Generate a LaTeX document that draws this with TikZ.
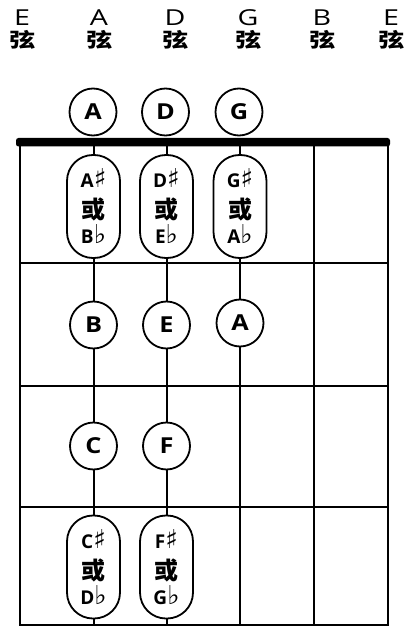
\documentclass[tikz,border=0pt]{standalone}
\usepackage{fontspec}
\setmainfont{Open Sans}
\newfontfamily\cjk{Noto Sans CJK SC}
\newfontfamily\symf{DejaVu Sans}
\newcommand{\shp}{{\symf\mdseries\fontsize{26}{26}\selectfont ♯}}
\newcommand{\flt}{{\symf\mdseries\fontsize{26}{26}\selectfont ♭}}
\begin{document}
\begin{tikzpicture}[x=1pt,y=-1pt,
  ln/.style={line width=2pt},
  note/.style={circle,draw,line width=1.8pt,fill=white,minimum size=47pt,inner sep=0pt,
    font=\bfseries\fontsize{22}{22}\selectfont},
  pill/.style={draw,line width=1.8pt,fill=white,rounded corners=26pt,minimum width=53pt,
    minimum height=103pt,inner sep=0pt},
  ptxt/.style={inner sep=0pt,anchor=base,font=\bfseries\fontsize{19}{19}\selectfont},
  phuo/.style={inner sep=0pt,anchor=base,font=\cjk\bfseries\fontsize{24}{24}\selectfont},
  headl/.style={inner sep=0pt,font=\fontsize{22}{22}\selectfont},
  headc/.style={inner sep=0pt,font=\cjk\bfseries\fontsize{20}{20}\selectfont}]
\useasboundingbox (0,0) rectangle (408,628);
% header
\foreach \n/\x/\l in {1/22/E,2/99/A,3/175/D,4/248/G,5/322/B,6/391/E}{
  \node[headl] (h\n) at (\x,17.5) {\scalebox{1.3}[1]{\l}};
  \node[headc] (x\n) at (\x+0.5,39.5) {\scalebox{1.3}[1]{弦}};
}
% coordinates
\coordinate (tl) at (19.5,146); \coordinate (bl) at (19.5,625);
\coordinate (tr) at (388,146);  \coordinate (br) at (388,625);
\coordinate (sAt) at (93.5,146);  \coordinate (sAb) at (93.5,625);
\coordinate (sDt) at (166.5,146); \coordinate (sDb) at (166.5,625);
\coordinate (sGt) at (240,146);   \coordinate (sGb) at (240,625);
\coordinate (sBt) at (314,146);   \coordinate (sBb) at (314,625);
\coordinate (f1L) at (19.5,263); \coordinate (f1R) at (388,263);
\coordinate (f2L) at (19.5,386); \coordinate (f2R) at (388,386);
\coordinate (f3L) at (19.5,507); \coordinate (f3R) at (388,507);
% grid
\draw[ln] (tl) -- (bl) -- (br) -- (tr);
\draw[ln] (sAt) -- (sAb);
\draw[ln] (sDt) -- (sDb);
\draw[ln] (sGt) -- (sGb);
\draw[ln] (sBt) -- (sBb);
\draw[ln] (f1L) -- (f1R);
\draw[ln] (f2L) -- (f2R);
\draw[ln] (f3L) -- (f3R);
% nut
\fill[rounded corners=2.5pt] (16,138) rectangle (390,146.5);
% open strings
\node[note] (oA) at (93,112) {\scalebox{1.15}[1]{A}};
\node[note] (oD) at (165.5,112) {\scalebox{1.15}[1]{D}};
\node[note] (oG) at (239,112) {\scalebox{1.15}[1]{G}};
% pills with text
\foreach \nm/\x/\y/\up/\dn in {pAs/93.5/206.5/A/B, pDs/166.5/206.5/D/E, pGs/240/206.5/G/A,
                               pCs/93.5/567/C/D, pFs/166.5/567/F/G}{
  \node[pill] (\nm) at (\x,\y) {};
  \node[ptxt] (\nm-1) at ([yshift=19pt]\nm.center) {\up\shp};
  \node[phuo] (\nm-2) at ([yshift=-12pt]\nm.center) {或};
  \node[ptxt] (\nm-3) at ([yshift=-37pt]\nm.center) {\dn\flt};
}
% second fret
\node[note] (nB) at (93.5,325) {\scalebox{1.15}[1]{B}};
\node[note] (nE) at (166.5,325) {\scalebox{1.15}[1]{E}};
\node[note] (nA) at (240,323) {\scalebox{1.15}[1]{A}};
% third fret
\node[note] (nC) at (93.5,446) {\scalebox{1.15}[1]{C}};
\node[note] (nF) at (166.5,446) {\scalebox{1.15}[1]{F}};
\end{tikzpicture}
\end{document}
